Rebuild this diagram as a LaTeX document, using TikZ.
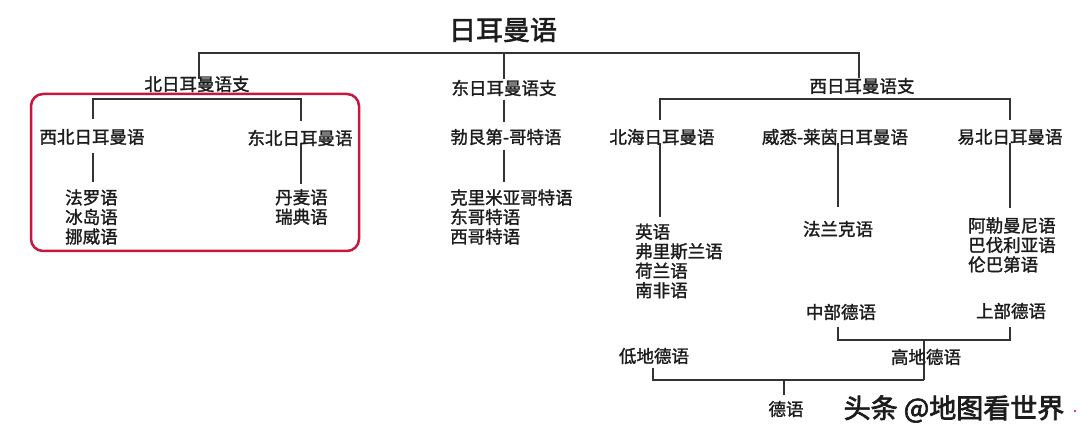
\documentclass[tikz,border=0pt]{standalone}
\usepackage{fontspec}
\newfontfamily\cjk[FakeBold=1.5]{Noto Sans CJK SC}
\newfontfamily\cjkttl[FakeBold=2.0]{Noto Sans CJK SC}
\newfontfamily\cjkwm[FakeBold=2.5]{Noto Sans CJK SC}
\definecolor{ink}{HTML}{1C1C1C}
\definecolor{lncol}{HTML}{333333}
\definecolor{boxred}{HTML}{C8173F}
\definecolor{dotred}{HTML}{D04060}
\begin{document}
\begin{tikzpicture}[x=1pt,y=-1pt,
  lbl/.style={font=\cjk\fontsize{17.5}{19.5}\selectfont, text=ink, inner sep=0pt},
  lst/.style={lbl, align=left, anchor=west},
  ttl/.style={font=\cjkttl\fontsize{27}{30}\selectfont, text=ink, inner sep=0pt},
  wmk/.style={font=\cjkwm\fontsize{27}{30}\selectfont, text=ink, inner sep=0pt},
  ln/.style={draw=lncol, line width=1.3pt},
  redbox/.style={draw=boxred, line width=2.5pt, rounded corners=12pt},
]
\useasboundingbox (0,0) rectangle (1080,435);
\fill[white] (0,0) rectangle (1080,435);

% ---------- junction coordinates ----------
\coordinate (rootL) at (199,53);
\coordinate (rootM) at (504,53);
\coordinate (rootR) at (859,53);
\coordinate (nbIn) at (199,79);
\coordinate (ebIn) at (504,79);
\coordinate (wbIn) at (859,78);

\coordinate (nL) at (93,99);
\coordinate (nR) at (301,99);
\coordinate (nwgTop) at (93,119);
\coordinate (negTop) at (301,121);
\coordinate (nwgBot) at (93,153);
\coordinate (nwlTop) at (93,182);
\coordinate (negBot) at (301,143);
\coordinate (nelTop) at (301,184);

\coordinate (ebBot) at (504,100);
\coordinate (bgTop) at (504,122);
\coordinate (bgBot) at (504,150);
\coordinate (glTop) at (504,182);

\coordinate (wL) at (660,99);
\coordinate (wR) at (1010,99);
\coordinate (nsgTop) at (660,120);
\coordinate (elgTop) at (1010,120);
\coordinate (nsgBot) at (660,143);
\coordinate (nslTop) at (660,217);
\coordinate (wrgBot) at (838,143);
\coordinate (frkTop) at (838,207);
\coordinate (elgBot) at (1010,143);
\coordinate (ellTop) at (1010,208);

\coordinate (mdBot) at (838,327);
\coordinate (udBot) at (1010,327);
\coordinate (hL) at (838,340);
\coordinate (hR) at (1010,340);
\coordinate (hM) at (924,340);

\coordinate (ldBot) at (653,368);
\coordinate (bL) at (653,380);
\coordinate (bR) at (924,380);
\coordinate (bM) at (784,380);
\coordinate (deTop) at (784,395);

% ---------- connectors ----------
\draw[ln] (nbIn) -- (rootL) -- (rootR) -- (wbIn);
\draw[ln] (rootM) -- (ebIn);

\draw[ln] (nwgTop) -- (nL) -- (nR) -- (negTop);
\draw[ln] (nwgBot) -- (nwlTop);
\draw[ln] (negBot) -- (nelTop);

\draw[ln] (ebBot) -- (bgTop);
\draw[ln] (bgBot) -- (glTop);

\draw[ln] (nsgTop) -- (wL) -- (wR) -- (elgTop);
\draw[ln] (nsgBot) -- (nslTop);
\draw[ln] (wrgBot) -- (frkTop);
\draw[ln] (elgBot) -- (ellTop);

\draw[ln] (mdBot) -- (hL) -- (hR) -- (udBot);
\draw[ln] (hM) -- (bR);
\draw[ln] (ldBot) -- (bL) -- (bR);
\draw[ln] (bM) -- (deTop);

% ---------- red frame ----------
\draw[redbox] (31,94) rectangle (359,251);

% ---------- labels ----------
\node[ttl] (root) at (503,30) {日耳曼语};

\node[lbl] (nb) at (197,84) {北日耳曼语支};
\node[lbl] (eb) at (504,88) {东日耳曼语支};
\node[lbl] (wb) at (862,86) {西日耳曼语支};

\node[lbl] (nwg) at (92,137) {西北日耳曼语};
\node[lbl] (neg) at (300,138) {东北日耳曼语};
\node[lst] (nwl) at (65,217) {法罗语\\冰岛语\\挪威语};
\node[lst] (nel) at (275,207) {丹麦语\\瑞典语};

\node[lbl] (bg) at (506,137) {勃艮第-哥特语};
\node[lst] (gl) at (450,217) {克里米亚哥特语\\东哥特语\\西哥特语};

\node[lbl] (nsg) at (662,137) {北海日耳曼语};
\node[lbl] (wrg) at (835,137) {威悉-莱茵日耳曼语};
\node[lbl] (elg) at (1010,137) {易北日耳曼语};

\node[lst] (nsl) at (635,261) {英语\\弗里斯兰语\\荷兰语\\南非语};
\node[lbl] (frk) at (838,229) {法兰克语};
\node[lst] (ell) at (968,245) {阿勒曼尼语\\巴伐利亚语\\伦巴第语};

\node[lbl] (md) at (841,312) {中部德语};
\node[lbl] (ud) at (1011,311) {上部德语};
\node[lbl] (hd) at (926,357) {高地德语};
\node[lbl] (ld) at (654,356) {低地德语};
\node[lbl] (de) at (786,409) {德语};

\node[wmk] (wm) at (954,409) {头条 @地图看世界};
\fill[dotred] (1075,411) circle (1.4);
\end{tikzpicture}
\end{document}
